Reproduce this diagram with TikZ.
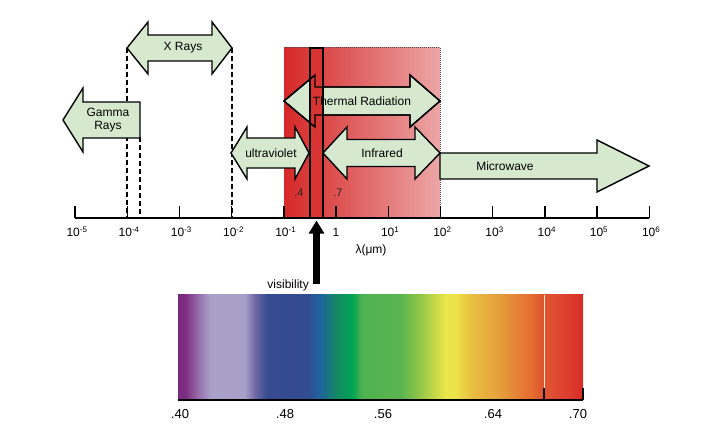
\documentclass[tikz,border=0pt]{standalone}
\usepackage{fontspec}
\setmainfont{Liberation Sans}
\usetikzlibrary{arrows.meta}

\definecolor{arrowgreen}{RGB}{214,233,207}
\definecolor{thermL}{RGB}{214,40,40}
\definecolor{thermR}{RGB}{236,166,166}
\definecolor{bandred}{RGB}{216,52,52}
\definecolor{spA}{RGB}{120,40,125}
\definecolor{spB}{RGB}{128,48,132}
\definecolor{spC}{RGB}{150,110,170}
\definecolor{spD}{RGB}{170,160,200}
\definecolor{spE}{RGB}{168,160,200}
\definecolor{spF}{RGB}{112,104,165}
\definecolor{spG}{RGB}{55,75,145}
\definecolor{spH}{RGB}{50,75,145}
\definecolor{spI}{RGB}{30,100,160}
\definecolor{spJ}{RGB}{20,135,100}
\definecolor{spK}{RGB}{0,165,85}
\definecolor{spL}{RGB}{80,178,80}
\definecolor{spM}{RGB}{90,180,80}
\definecolor{spN}{RGB}{150,200,70}
\definecolor{spO}{RGB}{235,230,75}
\definecolor{spP}{RGB}{234,228,74}
\definecolor{spQ}{RGB}{232,190,65}
\definecolor{spR}{RGB}{230,160,60}
\definecolor{spS}{RGB}{228,110,50}
\definecolor{spT}{RGB}{220,85,45}
\definecolor{spU}{RGB}{225,80,50}
\definecolor{spV}{RGB}{215,45,40}

\pgfdeclarehorizontalshading{spectrum}{100bp}{color(0bp)=(spA); color(25bp)=(spA);
  color(26bp)=(spB); color(27.5bp)=(spC); color(29bp)=(spD); color(33.25bp)=(spE);
  color(34.5bp)=(spF); color(36bp)=(spG); color(41bp)=(spH); color(42.5bp)=(spI);
  color(44.5bp)=(spJ); color(46.5bp)=(spK); color(47.75bp)=(spL); color(52.5bp)=(spM);
  color(55bp)=(spN); color(58bp)=(spO); color(59.2bp)=(spP); color(61.3bp)=(spQ);
  color(64.5bp)=(spR); color(68.5bp)=(spS); color(70bp)=(spT); color(70.9bp)=(spU);
  color(75bp)=(spV); color(100bp)=(spV)}

% double block arrow: style, left tip, left base, right base, right tip, y, half shaft, half head
\newcommand{\dblarrow}[8]{%
  \path[#1] (#2,#6) -- (#3,#6-#8) -- (#3,#6-#7) -- (#4,#6-#7) -- (#4,#6-#8) -- (#5,#6)
    -- (#4,#6+#8) -- (#4,#6+#7) -- (#3,#6+#7) -- (#3,#6+#8) -- cycle;}
% single block arrow: style, tail, base, tip, y, half shaft, half head
\newcommand{\sglarrow}[7]{%
  \path[#1] (#2,#5-#6) -- (#3,#5-#6) -- (#3,#5-#7) -- (#4,#5) -- (#3,#5+#7)
    -- (#3,#5+#6) -- (#2,#5+#6) -- cycle;}

\begin{document}
\begin{tikzpicture}[x=1pt,y=-1pt]
    \tikzstyle{block}=[fill=arrowgreen,draw=black,line width=1.4pt,line join=miter]
    \tikzstyle{guide}=[line width=1.3pt,dash pattern=on 5pt off 3pt]
    \tikzstyle{lbl}=[font=\fontsize{12}{13.5}\selectfont,inner sep=0pt]
    \tikzstyle{axisline}=[line width=1.4pt]
    \useasboundingbox (0,0) rectangle (721,438);

    % thermal region
    \shade[left color=thermL,right color=thermR] (284,48) rectangle (440,218);
    \draw[black!70,line width=1pt,dash pattern=on 1pt off 1pt] (284,48) -- (440,48) -- (440,218);

    % guide lines
    \coordinate (axl) at (75,218);
    \coordinate (xl) at (127,48);
    \coordinate (xr) at (232,48);
    \coordinate (gr) at (140,137);
    \draw[guide] (xl) -- (xl |- axl);
    \draw[guide] (xr) -- (xr |- axl);
    \draw[guide] (gr) -- (gr |- axl);

    % wavelength axis
    \draw[axisline] (axl) -- (649,218);
    \foreach \e in {-5,...,6}{
        \draw[axisline] (336+52.2*\e,218) -- (336+52.2*\e,206);
        \ifnum\e=0
            \node[lbl,anchor=base] (t\e) at (336,236.5) {1};
        \else
            \node[lbl,anchor=base] (t\e) at (338+52.2*\e,236.5) {10\textsuperscript{\e}};
        \fi
    }
    \node[lbl] (lam) at (371,250) {λ(μm)};
    \node[lbl,black!85,font=\fontsize{11}{12}\selectfont] (p4) at (299,193) {.4};
    \node[lbl,black!85,font=\fontsize{11}{12}\selectfont] (p7) at (338,193) {.7};

    % bands
    \dblarrow{block}{127}{148}{212}{232}{48}{13}{26}
    \node[lbl] (xray) at (183,48) {X Rays};
    \sglarrow{block}{140}{83}{63}{120}{18}{32}
    \node[lbl,align=center] (gamma) at (108,120) {Gamma\\Rays};
    \dblarrow{block}{231}{247}{295}{309}{153}{15}{26}
    \node[lbl] (uv) at (271,153) {ultraviolet};
    \dblarrow{block}{284}{315}{410}{440}{101}{14}{26}
    \sglarrow{block}{440}{597}{649}{166}{13}{26}
    \node[lbl] (micro) at (505,166) {Microwave};
    \dblarrow{block}{323}{347}{415}{440}{153}{13.5}{26}
    \node[lbl] (ir) at (382,153) {Infrared};

    % visible band
    \node[draw=black,fill=bandred,line width=1.1pt,minimum width=13pt,minimum height=170pt,inner sep=0pt] (vis) at (316.5,133) {};
    \dblarrow{draw=black,line width=1.4pt}{284}{315}{410}{440}{101}{14}{26}
    \node[lbl] (thermal) at (362,101) {Thermal Radiation};

    \coordinate (visfoot) at (316.5,284);
    \draw[line width=7pt,-{Triangle[width=15pt,length=13pt]},shorten >=2pt] (visfoot) -- (vis.south);
    \node[lbl,anchor=east] (visib) at (309,285) {visibility};

    % spectrum
    \shade[shading=spectrum] (178,295) rectangle (583,400);
    \draw[white!80!orange,line width=0.8pt] (544,295) -- (544,388);
    \draw[axisline] (178,400) -- (583,400);
    \draw[axisline] (544,400) -- (544,388);
    \draw[axisline] (583,400) -- (583,388);
    \foreach \x/\t in {180/.40,285/.48,383/.56,493/.64,578/.70}
        \node[lbl,font=\fontsize{13}{14}\selectfont] (s\t) at (\x,414) {\t};
\end{tikzpicture}
\end{document}
